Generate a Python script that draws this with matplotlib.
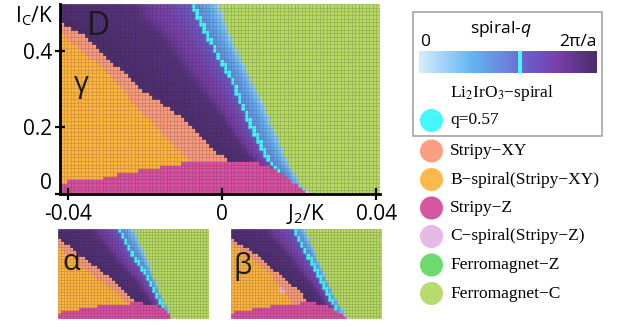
import numpy as np
import matplotlib
matplotlib.use('Agg')
import matplotlib.pyplot as plt
from matplotlib.colors import LinearSegmentedColormap, to_rgba
from matplotlib.patches import Circle, Rectangle

plt.rcParams['font.family'] = ['Open Sans', 'DejaVu Sans']
plt.rcParams['mathtext.fontset'] = 'custom'
plt.rcParams['mathtext.rm'] = 'Open Sans'
plt.rcParams['mathtext.it'] = 'Open Sans:italic'

# ---------------- axis ranges / ticks ----------------
J2_RANGE = (-0.0421, 0.0410)
IC_RANGE = (0.0237, 0.5237)
x_ticks = [-0.04, 0.0, 0.04]
x_tick_labels = ['-0.04', '0', '0.04']
y_ticks = [0.0237, 0.2, 0.4]
y_tick_labels = ['0', '0.2', '0.4']

# ---------------- phase boundaries ----------------
# main panel
main_green_ic = [0.029, 0.095, 0.200, 0.316, 0.421, 0.524]
main_green_j2 = [0.0221, 0.0177, 0.0133, 0.0081, 0.0029, -0.0010]
main_cyan_ic = [0.079, 0.121, 0.192, 0.316, 0.429, 0.524]
main_cyan_j2 = [0.0156, 0.0117, 0.0081, 0.0029, -0.0031, -0.0078]
main_salmon_ic = [0.113, 0.174, 0.237, 0.297, 0.376, 0.437, 0.476, 0.490]
main_salmon_j2 = [0.0013, -0.0057, -0.0117, -0.0205, -0.0291, -0.0351, -0.0421, -0.0460]
main_orange_ic = [0.113, 0.218, 0.363, 0.447, 0.460]
main_orange_j2 = [-0.0083, -0.0187, -0.0317, -0.0421, -0.0460]
main_mag_j2 = [-0.0421, -0.0395, -0.0317, -0.0247, -0.0187, -0.0091, 0.0013, 0.0106, 0.0143, 0.0177, 0.0221, 0.0240]
main_mag_ic = [0.053, 0.061, 0.066, 0.082, 0.092, 0.108, 0.111, 0.105, 0.087, 0.061, 0.029, 0.000]
main_cspiral = [(0.0225, 0.027)]

# inset alpha
a_green_ic = [0.057, 0.168, 0.351, 0.524]
a_green_j2 = [0.0195, 0.0140, 0.0069, -0.0008]
a_cyan_ic = [0.101, 0.146, 0.257, 0.390, 0.524]
a_cyan_j2 = [0.0151, 0.0124, 0.0069, -0.0014, -0.0080]
a_salmon_ic = [0.118, 0.168, 0.257, 0.368, 0.479, 0.490]
a_salmon_j2 = [0.0014, -0.0041, -0.0135, -0.0283, -0.0421, -0.0460]
a_orange_ic = [0.118, 0.140, 0.201, 0.313, 0.435, 0.450]
a_orange_j2 = [-0.0025, -0.0063, -0.0135, -0.0283, -0.0421, -0.0460]
a_mag_j2 = [-0.0421, -0.0283, -0.0151, 0.0014, 0.0085, 0.0140, 0.0212, 0.0230]
a_mag_ic = [0.063, 0.085, 0.107, 0.118, 0.113, 0.096, 0.029, 0.000]
a_cspiral = [(0.0215, 0.027)]

# inset beta
b_green_ic = [0.046, 0.146, 0.296, 0.524]
b_green_j2 = [0.0206, 0.0151, 0.0080, -0.0014]
b_cyan_ic = [0.090, 0.224, 0.368, 0.524]
b_cyan_j2 = [0.0151, 0.0080, 0.0008, -0.0074]
b_salmon_ic = [0.118, 0.185, 0.296, 0.390, 0.474, 0.490]
b_salmon_j2 = [0.0014, -0.0047, -0.0179, -0.0289, -0.0421, -0.0460]
b_orange_ic = [0.129, 0.146, 0.268, 0.351, 0.446, 0.460]
b_orange_j2 = [-0.0085, -0.0102, -0.0195, -0.0289, -0.0421, -0.0460]
b_mag_j2 = [-0.0421, -0.0289, -0.0102, 0.0025, 0.0124, 0.0217, 0.0235]
b_mag_ic = [0.063, 0.085, 0.113, 0.118, 0.096, 0.029, 0.000]
b_cspiral = [(-0.0140, 0.196), (-0.0130, 0.186), (-0.0150, 0.190), (0.0222, 0.027)]

# spiral wave-vector profile (fraction of 2pi/a) across the spiral region
q_left_s = [0.0, 0.08, 0.18, 0.30, 0.40, 1.0]
q_left_q = [0.60, 0.67, 0.76, 0.82, 0.94, 0.99]
q_right_t = [0.0, 0.5, 1.0]
q_right_q = [0.50, 0.36, 0.16]

# ---------------- legend ----------------
legend_labels = ['Stripy−XY', 'B−spiral(Stripy−XY)', 'Stripy−Z',
                 'C−spiral(Stripy−Z)', 'Ferromagnet−Z', 'Ferromagnet−C']
legend_colors = ['#FA9F82', '#FFB84C', '#D5579F', '#E6BAE6', '#6CDA6C', '#B8DB6E']
map_colors = ['#F99A7C', '#FFB43E', '#D84FA2', '#E6BAE6', '#6CDA6C', '#B6DA62']
cyan_color = '#45F6FB'
q_colors = ['#D6EEFC', '#62B4F4', '#6A82DA', '#6A5CC8', '#7A3FAA', '#4A2C6C']
q_nodes = [0.0, 0.3, 0.5, 0.62, 0.78, 1.0]
qcmap = LinearSegmentedColormap.from_list('q', list(zip(q_nodes, q_colors)))

COL = dict(zip(['sxy', 'bsp', 'sz', 'csp', 'fmz', 'fmc'], map_colors))


def build(nx, ny, green, cyan, salmon, orange, mag, cspots):
    xe = np.linspace(*J2_RANGE, nx + 1)
    ye = np.linspace(*IC_RANGE, ny + 1)
    xc = 0.5 * (xe[:-1] + xe[1:])
    yc = 0.5 * (ye[:-1] + ye[1:])
    X, Y = np.meshgrid(xc, yc)
    dx = xe[1] - xe[0]
    g = np.interp(Y, *green)
    c = np.interp(Y, *cyan)
    s = np.interp(Y, *salmon)
    o = np.interp(Y, *orange)
    m = np.interp(X, *mag)
    img = np.zeros(X.shape + (4,))
    sl = np.clip((c - X) / np.maximum(c - s, 1e-6), 0, 1)
    tr = np.clip((X - c) / np.maximum(g - c, 1e-6), 0, 1)
    q = np.where(X < c, np.interp(sl, q_left_s, q_left_q), np.interp(tr, q_right_t, q_right_q))
    img[:] = qcmap(q)
    img[np.abs(X - c) < 0.62 * dx] = to_rgba(cyan_color)
    img[X < s] = to_rgba(COL['sxy'])
    img[X < o] = to_rgba(COL['bsp'])
    img[Y <= m] = to_rgba(COL['sz'])
    img[X >= g] = to_rgba(COL['fmc'])
    for (px, py) in cspots:
        i = np.argmin(np.abs(yc - py))
        j = np.argmin(np.abs(xc - px))
        img[i, j] = to_rgba(COL['csp'])
    return xe, ye, img


fig = plt.figure(figsize=(6.29, 3.27), dpi=100)
W, H = 629, 327


def px_axes(x0, y0, x1, y1):
    return fig.add_axes([x0 / W, 1 - y1 / H, (x1 - x0) / W, (y1 - y0) / H])


def draw_mesh(ax, data):
    xe, ye, img = data
    mesh = ax.pcolormesh(xe, ye, img, linewidth=0.45, antialiased=True, shading='flat')
    dark = img.reshape(-1, 4).copy()
    dark[:, :3] *= 0.8
    mesh.set_edgecolor(dark)
    ax.set_xlim(*J2_RANGE)
    ax.set_ylim(*IC_RANGE)


# main panel
ax = px_axes(60, 4, 380, 194)
draw_mesh(ax, build(90, 52, (main_green_ic, main_green_j2), (main_cyan_ic, main_cyan_j2),
                    (main_salmon_ic, main_salmon_j2), (main_orange_ic, main_orange_j2),
                    (main_mag_j2, main_mag_ic), main_cspiral))
for sp in ['top', 'right']:
    ax.spines[sp].set_visible(False)
for sp in ['left', 'bottom']:
    ax.spines[sp].set_linewidth(2)
    ax.spines[sp].set_zorder(5)
ax.set_xticks(x_ticks)
ax.set_xticklabels(x_tick_labels)
ax.set_yticks(y_ticks)
ax.set_yticklabels(y_tick_labels)
ax.tick_params(axis='x', direction='inout', length=9, width=1.6, labelsize=15, pad=3)
ax.tick_params(axis='y', direction='inout', length=7, width=1.6, labelsize=15, pad=2)
ax.get_yticklabels()[0].set_va('bottom')
ax.text(0.0216, -0.105, r'J$_\mathrm{2}$/K', transform=ax.get_xaxis_transform(),
        ha='center', va='center', fontsize=15)
ax.text(0.119, 0.88, 'D', transform=ax.transAxes, ha='center', va='center', fontsize=23, color='#1a1a1a')
ax.text(0.066, 0.575, 'γ', transform=ax.transAxes, ha='center', va='center', fontsize=21, color='#1a1a1a')
fig.text(34 / W, 1 - 16 / H, r'I$_\mathrm{C}$/K', ha='center', va='center', fontsize=15)

# inset alpha
axa = px_axes(58, 229, 209, 319)
draw_mesh(axa, build(50, 30, (a_green_ic, a_green_j2), (a_cyan_ic, a_cyan_j2),
                     (a_salmon_ic, a_salmon_j2), (a_orange_ic, a_orange_j2),
                     (a_mag_j2, a_mag_ic), a_cspiral))
axa.axis('off')
axa.text(0.085, 0.63, 'α', transform=axa.transAxes, ha='center', va='center', fontsize=21, color='#1a1a1a')

# inset beta
axb = px_axes(231, 229, 382, 319)
draw_mesh(axb, build(50, 30, (b_green_ic, b_green_j2), (b_cyan_ic, b_cyan_j2),
                     (b_salmon_ic, b_salmon_j2), (b_orange_ic, b_orange_j2),
                     (b_mag_j2, b_mag_ic), b_cspiral))
axb.axis('off')
axb.text(0.075, 0.58, 'β', transform=axb.transAxes, ha='center', va='center', fontsize=21, color='#1a1a1a')

# legend overlay (pixel coordinates)
lg = fig.add_axes([0, 0, 1, 1])
lg.set_xlim(0, W)
lg.set_ylim(H, 0)
lg.axis('off')
lg.patch.set_visible(False)
lg.add_patch(Rectangle((413, 12), 189, 124, fill=False, edgecolor='#9C9C9C', lw=1.1))
lg.text(501, 29, r'spiral-$q$', ha='center', va='center', fontsize=12.5)
lg.text(425, 42, '0', ha='center', va='center', fontsize=12.5)
lg.text(596, 42, '2π/a', ha='right', va='center', fontsize=12.5)
lg.text(450, 93, r'Li$_2$IrO$_3$−spiral', ha='left', va='center', fontsize=12.5,
        family='Liberation Serif', math_fontfamily='stix')
lg.add_patch(Circle((431.5, 120.5), 11.5, color=cyan_color, lw=0))
lg.text(450, 120.5, 'q=0.57', ha='left', va='center', fontsize=12.5, family='Liberation Serif')
for k, (lab, colr) in enumerate(zip(legend_labels, legend_colors)):
    yy = 151 + k * 28.5
    lg.add_patch(Circle((431.5, yy), 11.5, color=colr, lw=0))
    lg.text(450, yy, lab, ha='left', va='center', fontsize=12.5, family='Liberation Serif')

# colorbar
cb = px_axes(419, 51, 597, 73)
cb.imshow(np.linspace(0, 1, 256)[None, :], cmap=qcmap, aspect='auto', extent=[0, 1, 0, 1])
cb.axvspan(0.565 - 0.011, 0.565 + 0.011, color=cyan_color, lw=0)
cb.set_xlim(0, 1)
cb.axis('off')

fig.savefig('out.png', dpi=100)
